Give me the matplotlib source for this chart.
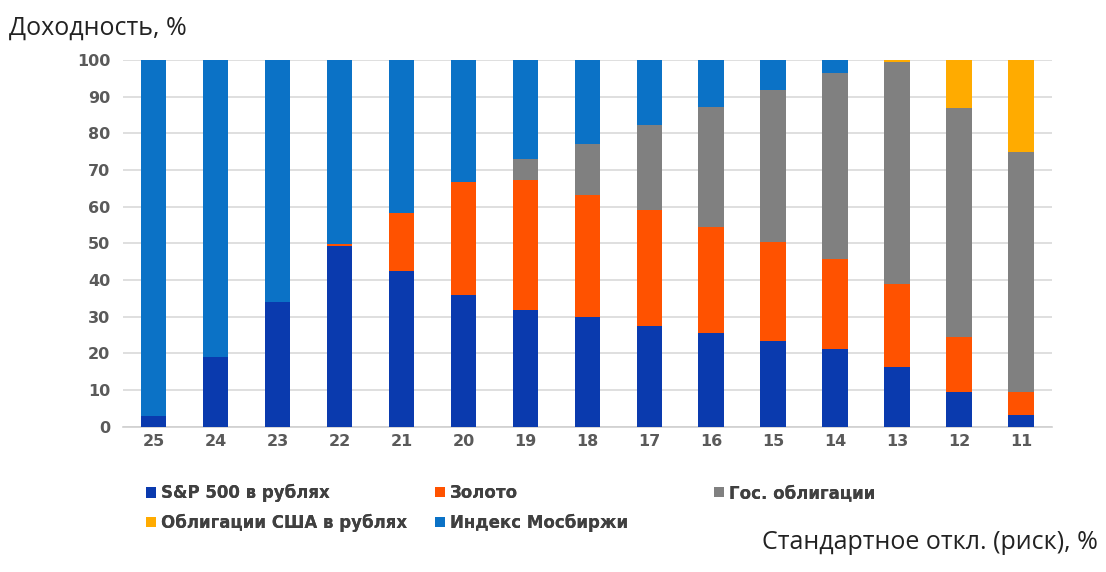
import numpy as np
import matplotlib.pyplot as plt
from matplotlib.patches import Patch

risk = ["25", "24", "23", "22", "21", "20", "19", "18", "17", "16", "15", "14", "13", "12", "11"]

sp500 = [3, 19, 34, 49.3, 42.4, 35.8, 31.7, 30.0, 27.6, 25.5, 23.3, 21.2, 16.2, 9.6, 3.3]
gold = [0, 0, 0, 0.5, 15.9, 31.0, 35.7, 33.1, 31.4, 29.0, 27.1, 24.6, 22.8, 15.0, 6.1]
gov_bonds = [0, 0, 0, 0, 0, 0, 5.5, 13.9, 23.4, 32.7, 41.4, 50.8, 60.5, 62.2, 65.5]
us_bonds = [0, 0, 0, 0, 0, 0, 0, 0, 0, 0, 0, 0, 0.5, 13.2, 25.1]
moex = [97, 81, 66, 50.2, 41.7, 33.2, 27.1, 23.0, 17.6, 12.8, 8.2, 3.4, 0, 0, 0]

series = [
    ("S&P 500 в рублях", sp500, "#0a3aae"),
    ("Золото", gold, "#ff5200"),
    ("Гос. облигации", gov_bonds, "#808080"),
    ("Облигации США в рублях", us_bonds, "#ffab00"),
    ("Индекс Мосбиржи", moex, "#0b72c6"),
]

fig = plt.figure(figsize=(11.06, 5.72), dpi=100)
ax = fig.add_axes([0.111, 0.254, 0.840, 0.641])

x = np.arange(len(risk))
bottom = np.zeros(len(risk))
for name, vals, color in series:
    vals = np.array(vals, dtype=float)
    ax.bar(x, vals, width=0.41, bottom=bottom, color=color, label=name, zorder=3)
    bottom += vals

ax.set_xlim(-0.5, len(risk) - 0.5)
ax.set_ylim(0, 100)
ax.set_yticks(np.arange(0, 101, 10))
ax.set_xticks(x)
ax.set_xticklabels(risk)
ax.grid(axis="y", color="#d9d9d9", linewidth=1.2, zorder=0)
for side in ["top", "right", "left"]:
    ax.spines[side].set_visible(False)
ax.spines["bottom"].set_color("#d0d0d0")
ax.spines["bottom"].set_linewidth(1.2)
ax.tick_params(axis="both", length=0, labelsize=11.5, colors="#5a5a5a")
ax.tick_params(axis="x", pad=5)
ax.tick_params(axis="y", pad=9)
for lbl in ax.get_xticklabels() + ax.get_yticklabels():
    lbl.set_fontweight("bold")

fig.text(0.008, 0.951, "Доходность, %", fontsize=18, family="Open Sans",
         color="#222222", ha="left", va="center")
fig.text(0.993, 0.052, "Стандартное откл. (риск), %", fontsize=18, family="Open Sans",
         color="#222222", ha="right", va="center")

# legend laid out as a 3-column grid, one small legend per entry
legend_pos = [(0.132, 0.138), (0.393, 0.138), (0.646, 0.138),
              (0.132, 0.086), (0.393, 0.086)]
for (name, vals, color), (lx, ly) in zip(series, legend_pos):
    fig.add_artist(fig.legend(
        handles=[Patch(facecolor=color, label=name)],
        loc="center left", bbox_to_anchor=(lx, ly), frameon=False,
        prop={"size": 12, "weight": "bold"}, handlelength=0.6, handleheight=0.6,
        handletextpad=0.3, borderpad=0, borderaxespad=0, labelcolor="#404040"))

fig.savefig("out.png", dpi=100)
